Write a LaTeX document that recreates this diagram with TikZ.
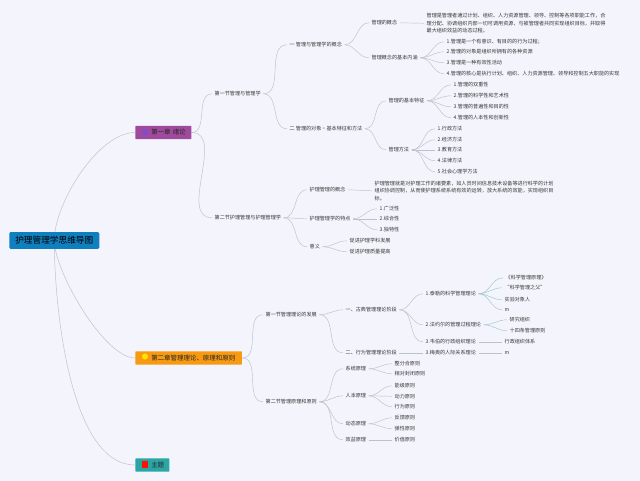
\documentclass[tikz,border=0pt]{standalone}
\usepackage{fontspec}
\setmainfont{Noto Sans CJK SC}
\usetikzlibrary{backgrounds}
\begin{document}
\begin{tikzpicture}[x=0.75pt,y=-0.75pt]
\tikzstyle{root} = [rounded corners=1pt, fill=rootblue, text=black, anchor=west, inner sep=0pt, minimum height=12.7pt, minimum width=67.5pt, font=\fontsize{6.5}{8}\selectfont]
\tikzstyle{chapter} = [rounded corners=0.5pt, text=black!85, anchor=west, inner sep=0pt, minimum height=10pt, align=left, execute at begin node={\hspace*{12pt}}, font=\fontsize{4.85}{6}\selectfont]
\tikzstyle{leaf} = [anchor=west, yshift=-0.6pt, inner xsep=1.8pt, inner ysep=1pt, text=black!78, align=left, font=\fontsize{3.83}{5.6}\selectfont]
\tikzstyle{icon} = [circle, inner sep=0pt, minimum size=4.6pt]
\tikzstyle{link} = [draw=linegray, line width=0.35pt]
\tikzstyle{tealLink} = [draw=lineteal, line width=0.35pt]
\tikzstyle{curve} = [out=0, in=180]
\definecolor{pagebg}{HTML}{F4F4FC}
\definecolor{rootblue}{HTML}{0F7FBF}
\definecolor{linegray}{HTML}{BCC2CA}
\definecolor{lineteal}{HTML}{A0C8C8}
\definecolor{chapterpurple}{HTML}{A04A9E}
\definecolor{chapterorange}{HTML}{F79A12}
\definecolor{chapterteal}{HTML}{2CA5A5}
\useasboundingbox (0,0) rectangle (640,481);

% root and chapters
\node (Root) [root] at (9,240.5) {护理管理学思维导图};
\node (ChapterOne) [chapter, fill=chapterpurple, text width=42pt] at (135,132.5) {第一章 绪论};
\node (ChapterTwo) [chapter, fill=chapterorange, text width=80pt] at (135,358) {第二章管理理论、原理和原则};
\node (Topic) [chapter, fill=chapterteal, text width=25.5pt] at (135,465) {主题};
\node (IconOne) [icon, fill=blue!45!violet!70!white] at (145,132.5) {};
\node (IconTwo) [icon, fill=yellow!85!orange] at (145,356.5) {};
\node (IconThree) [icon, rectangle, fill=red!85!orange] at (145,464.5) {};

% chapter one
\node (SectionOne) [leaf] at (212,93) {第一节管理与管理学};
\node (SectionTwo) [leaf] at (212,217) {第二节护理管理与护理管理学};
\node (ConceptGroup) [leaf] at (287,44) {一 管理与管理学的概念};
\node (ObjectGroup) [leaf] at (287,128) {二 管理的对象·基本特征和方法};
\node (Concept) [leaf] at (369,22) {管理的概念};
\node (ConceptText) [leaf] at (424,22.5) {管理是管理者通过计划、组织、人力资源管理、领导、控制等各项职能工作，合\\理分配、协调组织内部一切可调用资源，与被管理者共同实现组织目标，并取得\\最大组织效益的动态过程。};
\node (Meaning) [leaf] at (369,57) {管理概念的基本内涵};
\node (MeaningA) [leaf] at (444,41) {1.管理是一个有意识、有目的的行为过程；};
\node (MeaningB) [leaf] at (444,51) {2.管理的对象是组织所拥有的各种资源};
\node (MeaningC) [leaf] at (444,62) {3.管理是一种有效性活动};
\node (MeaningD) [leaf] at (444,73) {4.管理的核心是执行计划、组织、人力资源管理、领导和控制五大职能的实现};
\node (Feature) [leaf] at (386,100) {管理的基本特征};
\node (FeatureA) [leaf] at (451,84) {1.管理的双重性};
\node (FeatureB) [leaf] at (451,95) {2.管理的科学性和艺术性};
\node (FeatureC) [leaf] at (451,106) {3.管理的普遍性和目的性};
\node (FeatureD) [leaf] at (451,117) {4.管理的人本性和创新性};
\node (Method) [leaf] at (386,149) {管理方法};
\node (MethodA) [leaf] at (435,128) {1.行政方法};
\node (MethodB) [leaf] at (435,139) {2.经济方法};
\node (MethodC) [leaf] at (435,149) {3.教育方法};
\node (MethodD) [leaf] at (435,160) {4.法律方法};
\node (MethodE) [leaf] at (435,171) {5.社会心理学方法};
\node (Nursing) [leaf] at (307,189) {护理管理的概念};
\node (NursingText) [leaf] at (372,190) {护理管理就是对护理工作的诸要素，如人员时间信息技术设备等进行科学的计划\\组织协调控制，从而使护理系统系统有效的运转，放大系统的效能，实现组织目\\标。};
\node (Trait) [leaf] at (307,218) {护理管理学的特点};
\node (TraitA) [leaf] at (377,208) {1.广泛性};
\node (TraitB) [leaf] at (377,218) {2.综合性};
\node (TraitC) [leaf] at (377,229) {3.独特性};
\node (Sense) [leaf] at (307,246) {意义};
\node (SenseA) [leaf] at (347,240) {促进护理学科发展};
\node (SenseB) [leaf] at (347,251) {促进护理质量提高};

% chapter two
\node (SectionThree) [leaf] at (263,314) {第一节管理理论的发展};
\node (SectionFour) [leaf] at (263,401) {第二节管理原理和原则};
\node (Classic) [leaf] at (343,309) {一、古典管理理论阶段};
\node (Behavior) [leaf] at (343,352) {二、行为管理理论阶段};
\node (Taylor) [leaf] at (423,293) {1.泰勒的科学管理理论};
\node (TaylorA) [leaf] at (503,277) {《科学管理原理》};
\node (TaylorB) [leaf] at (502,287) {“科学管理之父”};
\node (TaylorC) [leaf] at (502,299) {实验对象人};
\node (TaylorD) [leaf] at (502,309) {m};
\node (Fayol) [leaf] at (423,324) {2.法约尔的管理过程理论};
\node (FayolA) [leaf] at (507,319) {研究组织};
\node (FayolB) [leaf] at (507,330) {十四条管理原则};
\node (Weber) [leaf] at (423,341) {3.韦伯的行政组织理论};
\node (WeberA) [leaf] at (502,341) {行政组织体系};
\node (Mayo) [leaf] at (423,352) {3.梅奥的人际关系理论};
\node (MayoA) [leaf] at (502,352) {m};
\node (System) [leaf] at (343,368) {系统原理};
\node (SystemA) [leaf] at (392,363) {整分合原则};
\node (SystemB) [leaf] at (392,373) {相对封闭原则};
\node (People) [leaf] at (343,395) {人本原理};
\node (PeopleA) [leaf] at (392,385) {能级原则};
\node (PeopleB) [leaf] at (392,395.5) {动力原则};
\node (PeopleC) [leaf] at (392,406) {行为原则};
\node (Dynamic) [leaf] at (343,423) {动态原理};
\node (DynamicA) [leaf] at (392,417) {反馈原则};
\node (DynamicB) [leaf] at (392,428) {弹性原则};
\node (Benefit) [leaf] at (343,439) {效益原理};
\node (BenefitA) [leaf] at (392,439) {价值原则};

\begin{scope}[on background layer]
\fill [pagebg] (0,0) rectangle (640,481);
\draw [link] (Root.center) to [out=-90, in=180, looseness=0.7] (Topic.west);
\draw [link] (Root.center) to [out=90, in=180, looseness=0.7] (ChapterOne.west);
\draw [link] (Root.center) to [out=-90, in=180, looseness=0.55] (ChapterTwo.west);
\foreach \from/\to in {ChapterOne/SectionOne, ChapterOne/SectionTwo, ChapterTwo/SectionThree, ChapterTwo/SectionFour,
  SectionOne/ConceptGroup, SectionOne/ObjectGroup, ConceptGroup/Concept, ConceptGroup/Meaning,
  Meaning/MeaningA, Meaning/MeaningB, Meaning/MeaningC, Meaning/MeaningD,
  ObjectGroup/Feature, ObjectGroup/Method,
  Feature/FeatureA, Feature/FeatureB, Feature/FeatureC, Feature/FeatureD,
  Method/MethodA, Method/MethodB, Method/MethodC, Method/MethodD, Method/MethodE,
  SectionTwo/Nursing, SectionTwo/Trait, SectionTwo/Sense,
  Trait/TraitA, Trait/TraitC, Sense/SenseA, Sense/SenseB,
  SectionThree/Classic, SectionThree/Behavior, Classic/Taylor, Classic/Fayol, Classic/Weber,
  SectionFour/System, SectionFour/People, SectionFour/Dynamic, SectionFour/Benefit,
  System/SystemA, System/SystemB, People/PeopleA, People/PeopleC, Dynamic/DynamicA, Dynamic/DynamicB}
  \draw [link] (\from.east) to [curve] (\to.west);
\foreach \from/\to in {Taylor/TaylorA, Taylor/TaylorB, Taylor/TaylorC, Taylor/TaylorD, Fayol/FayolA, Fayol/FayolB}
  \draw [tealLink] (\from.east) to [curve] (\to.west);
\foreach \from/\to in {Concept/ConceptText, Trait/TraitB, Nursing/NursingText, Weber/WeberA, Behavior/Mayo, Mayo/MayoA, People/PeopleB, Benefit/BenefitA}
  \draw [link] (\from.east) -- (\to.west);
\end{scope}

\end{tikzpicture}
\end{document}
